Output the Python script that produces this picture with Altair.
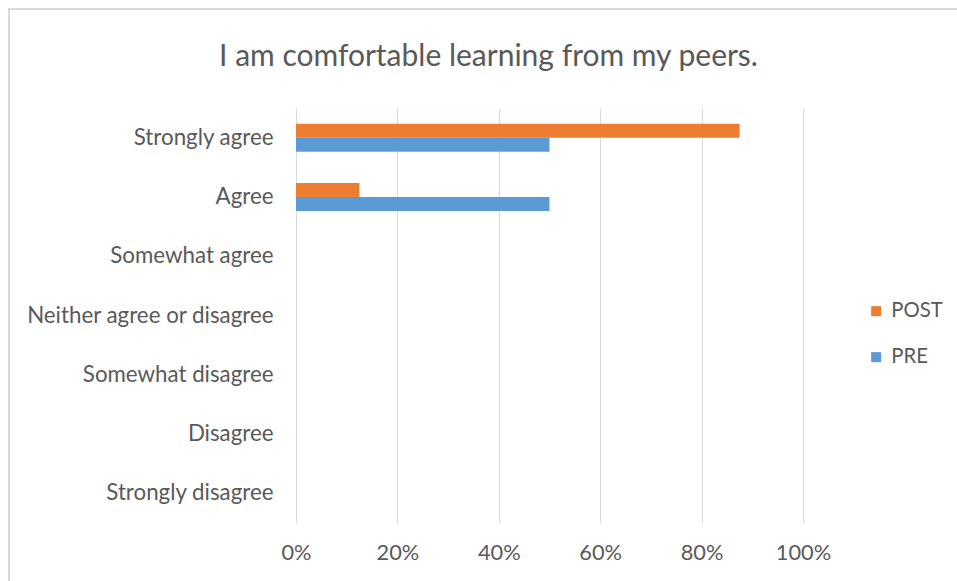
import altair as alt
import pandas as pd

categories = ["Strongly agree", "Agree", "Somewhat agree", "Neither agree or disagree",
              "Somewhat disagree", "Disagree", "Strongly disagree"]
post_values = [0.875, 0.125, 0, 0, 0, 0, 0]
pre_values = [0.50, 0.50, 0, 0, 0, 0, 0]
series = ["POST", "PRE"]
colors = ["#ED7D31", "#5B9BD5"]
x_ticks = [0, 0.2, 0.4, 0.6, 0.8, 1.0]

rows = []
for c, po, pr in zip(categories, post_values, pre_values):
    rows.append({"category": c, "series": "POST", "value": po})
    rows.append({"category": c, "series": "PRE", "value": pr})
df = pd.DataFrame(rows)

FONT = "Lato"
GREY = "#595959"

bars = alt.Chart(df).mark_bar(size=14).encode(
    y=alt.Y("category:N", sort=categories, title=None,
            scale=alt.Scale(paddingInner=0.528, paddingOuter=0.264),
            axis=alt.Axis(ticks=False, domain=False, labelFontSize=22.3, labelColor=GREY,
                          labelFont=FONT, labelPadding=23, grid=False, labelLimit=400)),
    yOffset=alt.YOffset("series:N", sort=series, scale=alt.Scale(paddingInner=0, paddingOuter=0)),
    x=alt.X("value:Q", title=None, scale=alt.Scale(domain=[0, 1], nice=False),
            axis=alt.Axis(format="%", values=x_ticks, ticks=False, domain=False,
                          labelFontSize=21.8, labelColor=GREY, labelFont=FONT,
                          labelFlush=False, labelBound=False,
                          labelPadding=19, gridColor="#D9D9D9", gridWidth=1)),
    color=alt.Color("series:N", sort=series,
                    scale=alt.Scale(domain=series, range=colors),
                    legend=alt.Legend(title=None, orient="none", legendX=570, legendY=193,
                                      symbolType="square", symbolSize=100, symbolStrokeWidth=0,
                                      labelFontSize=20.3, labelColor=GREY, labelFont=FONT,
                                      labelOffset=5, rowPadding=25, padding=0)),
)

border_df = pd.DataFrame({"k": [0]})
top_border = alt.Chart(border_df).mark_rule(color="#D9D9D9", strokeWidth=2).encode(
    x=alt.value(-288), x2=alt.value(661), y=alt.value(-99))
left_border = alt.Chart(border_df).mark_rule(color="#D9D9D9", strokeWidth=2).encode(
    x=alt.value(-287), y=alt.value(-99), y2=alt.value(473))

chart = alt.layer(bars, top_border, left_border).properties(
    width=507, height=415,
    title=alt.TitleParams("I am comfortable learning from my peers.", fontSize=30,
                          font=FONT, color=GREY, fontWeight="normal", anchor="middle",
                          frame="group", baseline="middle", dx=-61, offset=-79),
    autosize=alt.AutoSizeParams(type="none"),
    padding={"left": 296, "top": 108, "right": 154, "bottom": 58},
    background="white",
).configure_view(stroke=None)

chart.save("out.html", embed_options={"renderer": "svg", "actions": False})
